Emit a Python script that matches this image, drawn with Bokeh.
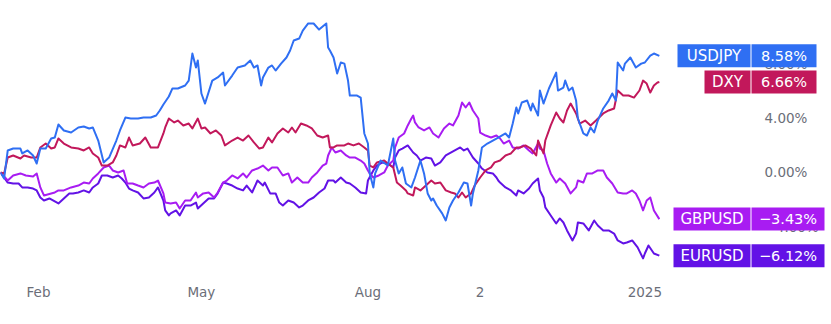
from bokeh.plotting import figure
from bokeh.models import Range1d, FixedTicker
from bokeh.core.properties import value
from bokeh.embed import file_html
from bokeh.resources import INLINE

# x = days since 2024-01-01, y = % change since start
usdjpy = [(10,0.00),(12,-0.44),(14,1.62),(17,1.76),(21,1.76),(22,1.40),(25,1.62),(28,1.25),(30,0.66),(32,1.76),
          (35,1.76),(38,2.50),(40,2.57),(42,3.53),(45,3.09),(49,2.94),(53,3.31),(56,3.38),(59,3.24),(61,3.31),
          (64,2.35),(67,0.74),(70,1.10),(74,2.35),(76,3.09),(79,4.04),(82,3.97),(86,3.97),(89,4.04),(93,4.04),
          (96,4.19),(98,4.56),(100,5.00),(103,5.59),(105,6.18),(108,6.18),(112,6.40),(114,6.76),(116,8.75),(118,7.72),
          (119,8.24),(121,5.81),(123,5.07),(127,6.76),(130,6.99),(133,7.35),(134,6.40),(138,7.13),(141,7.72),(145,7.87),
          (148,8.24),(150,7.72),(152,7.87),(154,6.40),(155,6.99),(158,7.72),(160,7.87),(162,7.50),(165,8.01),(168,8.46),
          (170,8.97),(172,9.71),(175,9.85),(177,10.44),(180,10.96),(183,10.96),(186,10.51),(190,10.96),(191,9.19),(192,8.97),
          (194,8.46),(196,7.28),(198,8.09),(200,8.01),(202,6.76),(203,5.66),(207,5.66),(209,5.51),(211,2.87),(213,2.13),
          (214,-0.07),(216,-1.10),(217,-0.07),(220,0.88),(224,0.51),(227,2.50),(228,0.88),(230,-0.07),(232,0.37),(234,-0.81),
          (237,-1.10),(239,-0.37),(242,0.88),(244,-0.07),(246,-1.54),(248,-2.06),(249,-1.91),(251,-2.43),(254,-3.01),(256,-3.53),
          (258,-2.57),(260,-2.06),(263,-1.47),(266,-0.74),(268,-0.81),(270,-2.43),(271,-1.54),(274,0.15),(276,1.84),(279,2.13),
          (282,2.35),(285,2.57),(289,2.87),(291,2.57),(293,3.60),(295,4.78),(296,4.34),(298,5.15),(301,5.29),(303,4.56),
          (304,5.07),(307,4.19),(308,6.03),(310,5.07),(313,6.18),(315,6.76),(317,7.35),(318,6.03),(321,6.25),(322,6.76),
          (324,6.03),(326,6.25),(328,5.29),(329,3.97),(332,2.87),(334,2.72),(336,3.31),(338,2.94),(340,3.82),(343,4.71),
          (346,5.29),(348,5.81),(350,5.29),(351,8.09),(354,7.50),(355,8.01),(358,8.46),(361,7.72),(364,8.01),(366,8.09),
          (369,8.60),(371,8.75),(374,8.58)]

dxy = [(10,0.00),(12,-0.07),(14,1.10),(17,1.25),(21,1.03),(23,1.25),(27,1.10),(30,1.10),(32,1.84),(35,2.13),
       (38,1.76),(40,1.84),(42,2.50),(45,2.13),(49,1.84),(53,1.76),(56,1.62),(59,1.84),(61,1.40),(64,1.10),
       (66,0.51),(69,0.51),(72,0.74),(74,1.25),(76,1.99),(79,1.84),(81,2.57),(83,1.99),(87,2.13),(90,2.57),
       (93,1.84),(97,1.84),(100,2.87),(101,3.31),(103,3.97),(106,3.68),(108,3.82),(111,3.46),(114,3.60),(116,3.24),
       (119,3.97),(121,3.24),(123,3.31),(126,2.87),(129,3.09),(132,2.72),(134,1.99),(138,2.35),(141,2.57),(144,2.35),
       (147,2.72),(150,2.21),(153,1.76),(155,1.84),(158,2.57),(160,2.21),(163,2.87),(166,3.24),(169,2.94),(171,3.31),
       (173,2.94),(176,3.60),(179,3.46),(182,3.24),(185,2.72),(188,2.57),(191,2.72),(192,1.84),(194,1.84),(196,1.99),
       (200,1.99),(202,2.13),(205,1.99),(208,2.13),(211,1.84),(213,1.62),(214,0.51),(216,0.37),(218,0.74),(222,0.88),
       (224,0.66),(227,0.37),(229,-0.74),(231,-0.96),(234,-1.32),(235,-1.54),(238,-1.69),(239,-1.10),(242,-1.32),(245,-0.96),
       (248,-0.59),(250,-0.81),(253,-0.74),(256,-1.32),(259,-1.47),(261,-1.54),(263,-1.84),(265,-1.47),(267,-1.84),(270,-1.54),
       (272,-0.96),(275,-0.37),(278,0.15),(281,0.37),(283,0.74),(286,0.88),(289,1.25),(292,1.40),(295,1.84),(297,1.84),
       (300,1.99),(303,1.76),(306,1.25),(307,2.35),(310,1.40),(311,2.35),(314,3.46),(317,4.41),(319,3.97),(321,3.68),
       (323,4.56),(325,5.07),(328,4.34),(330,3.60),(333,3.82),(336,3.46),(339,3.82),(343,4.34),(346,4.56),(349,4.71),
       (351,6.03),(354,5.66),(357,5.66),(360,5.51),(363,6.03),(365,6.76),(367,6.54),(369,5.88),(371,6.40),(373,6.62),
       (374,6.66)]

gbpusd = [(10,0.00),(14,-0.59),(17,-0.22),(21,-0.07),(24,-0.22),(28,-0.29),(30,-0.07),(32,-1.10),(34,-1.69),(38,-1.54),
          (40,-1.47),(42,-1.32),(45,-1.32),(49,-1.10),(53,-0.96),(56,-0.74),(59,-0.81),(61,-0.44),(64,-0.07),(67,0.37),
          (70,0.51),(72,0.15),(75,0.00),(78,0.15),(80,-0.81),(83,-0.81),(86,-0.96),(89,-1.10),(92,-0.81),(95,-0.74),
          (97,-0.59),(100,-1.54),(101,-2.21),(104,-2.28),(107,-2.21),(109,-2.65),(112,-2.06),(115,-2.06),(118,-1.47),(119,-1.84),
          (122,-1.54),(125,-1.47),(128,-1.84),(130,-1.47),(133,-0.74),(135,-0.59),(138,-0.22),(141,-0.44),(144,-0.07),(146,-0.37),
          (149,0.15),(152,0.29),(155,0.51),(158,0.15),(160,0.37),(163,0.37),(166,-0.22),(169,-0.07),(171,-0.74),(174,-0.37),
          (177,-0.74),(180,-0.74),(182,-0.37),(185,0.00),(188,0.51),(190,0.66),(191,1.25),(193,1.84),(195,1.47),(198,1.62),
          (201,1.25),(203,1.10),(206,1.10),(209,0.88),(211,0.66),(213,0.15),(214,-0.07),(216,-0.37),(219,-0.22),(222,0.00),
          (224,0.51),(227,0.88),(228,1.84),(230,2.57),(233,2.87),(235,3.46),(237,3.97),(238,4.19),(239,3.68),(241,3.31),
          (244,3.09),(247,3.31),(249,2.87),(252,2.57),(255,3.24),(258,3.60),(260,3.46),(263,4.19),(265,5.15),(267,4.78),
          (269,5.15),(271,4.56),(274,3.97),(275,2.94),(278,2.72),(281,2.57),(284,2.72),(286,2.50),(288,2.13),(291,2.35),
          (293,1.84),(296,1.76),(299,1.99),(302,1.62),(304,1.40),(307,2.13),(308,1.76),(310,1.62),(312,0.66),(314,-0.07),
          (317,-0.74),(319,-0.44),(322,-0.81),(325,-1.54),(328,-1.10),(329,-0.59),(332,-0.74),(334,-0.07),(337,-0.07),(340,0.15),
          (343,0.15),(345,-0.37),(348,-0.81),(351,-1.47),(354,-1.54),(356,-1.54),(359,-1.32),(361,-1.54),(363,-2.06),(365,-2.79),
          (367,-2.06),(369,-1.84),(371,-2.79),(374,-3.43)]

eurusd = [(10,0.00),(14,-0.74),(17,-0.81),(20,-0.81),(22,-1.10),(25,-1.10),(28,-1.18),(30,-1.32),(32,-1.84),(34,-2.06),
          (37,-1.91),(39,-2.06),(42,-2.28),(45,-1.91),(48,-1.54),(50,-1.54),(53,-1.47),(56,-1.32),(59,-1.47),(61,-1.10),
          (64,-0.81),(66,-0.22),(69,-0.22),(72,-0.37),(75,-0.22),(77,-0.44),(79,-0.74),(81,-1.18),(83,-1.32),(86,-1.47),
          (89,-1.91),(92,-1.84),(95,-1.47),(97,-1.10),(100,-2.06),(101,-2.79),(103,-3.16),(104,-3.01),(107,-2.79),(109,-3.16),
          (112,-2.43),(115,-2.43),(118,-2.21),(119,-2.65),(122,-2.28),(125,-1.91),(128,-1.91),(130,-1.54),(133,-0.74),(135,-0.81),
          (138,-0.96),(141,-1.18),(144,-1.32),(146,-0.96),(149,-1.47),(152,-0.59),(155,-0.96),(156,-0.74),(159,-1.54),(162,-1.54),
          (164,-2.21),(166,-2.43),(169,-2.06),(172,-2.21),(175,-2.57),(177,-2.43),(180,-2.06),(183,-1.84),(186,-1.47),(189,-1.18),
          (191,-0.59),(194,-0.59),(195,-0.74),(198,-0.37),(201,-0.74),(203,-0.81),(206,-1.10),(209,-1.47),(212,-1.54),(213,-0.59),
          (216,0.15),(218,0.51),(221,0.74),(224,0.66),(227,0.37),(228,1.10),(230,1.62),(232,1.76),(235,1.99),(238,1.47),
          (240,1.25),(242,0.88),(245,1.10),(248,1.03),(250,0.51),(253,0.74),(256,1.25),(259,1.47),(261,1.62),(264,1.84),
          (266,1.62),(268,1.76),(271,1.10),(274,0.66),(276,0.29),(279,0.00),(282,-0.07),(284,-0.37),(285,-0.59),(286,-0.74),
          (289,-1.10),(292,-1.32),(295,-1.69),(296,-1.32),(299,-1.54),(302,-1.18),(304,-0.81),(307,-0.44),(308,-1.32),(310,-1.84),
          (311,-2.57),(314,-3.16),(317,-3.75),(319,-3.38),(321,-3.68),(323,-4.26),(326,-5.00),(328,-4.49),(329,-3.68),(332,-3.75),
          (335,-4.26),(338,-3.53),(340,-3.90),(343,-4.26),(346,-4.26),(349,-4.49),(351,-5.00),(354,-5.22),(356,-5.15),(359,-5.00),
          (362,-5.51),(365,-6.32),(366,-5.96),(368,-5.37),(371,-5.96),(374,-6.12)]

series_names = ["EURUSD", "GBPUSD", "DXY", "USDJPY"]
series_data = [eurusd, gbpusd, dxy, usdjpy]
series_colors = ["#6212e6", "#a81cf2", "#c2185b", "#2f6ff3"]

x_tick_days = [31, 121, 213, 275, 366]          # Feb 1, May 1, Aug 1, Oct 2, Jan 1 2025
x_tick_labels = ["Feb", "May", "Aug", "2", "2025"]
y_ticks = [-4, 0, 4, 8]

# layout (pixels) of the price-scale area on the right
W, H = 831, 324
X0, PX_PER_DAY = 10.0, 1.81
name_box_w = [77, 77, 46, 73]      # per series, same order as series_names
value_box_w = [73, 73, 65, 65]
BOX_H = 23
SPLIT_PX = 750.5
YLABEL_PX = 764

FONT = "DejaVu Sans"
GREY = "#6b6e78"


def px_to_day(px):
    return X0 + px / PX_PER_DAY


p = figure(width=W, height=H, output_backend="svg", toolbar_location=None,
           x_range=Range1d(X0, px_to_day(W)), y_range=Range1d(-7.43, 12.65),
           y_axis_location=None, min_border_left=0, min_border_right=0,
           min_border_top=0, min_border_bottom=51)
p.outline_line_color = None
p.xgrid.visible = False
p.ygrid.visible = False
p.background_fill_color = "white"
p.border_fill_color = "white"

for name, data, color in zip(series_names, series_data, series_colors):
    xs = [d for d, v in data]
    ys = [v for d, v in data]
    p.line(xs, ys, line_width=2, color=color, line_join="round")

xa = p.xaxis[0]
xa.ticker = FixedTicker(ticks=x_tick_days)
xa.major_label_overrides = {d: l for d, l in zip(x_tick_days, x_tick_labels)}
xa.axis_line_color = None
xa.major_tick_line_color = None
xa.minor_tick_line_color = None
xa.major_label_standoff = 4
xa.major_label_text_font = FONT
xa.major_label_text_font_size = "13.5px"
xa.major_label_text_color = GREY


def fmt_pct(v):
    return ("\u2212" if v < 0 else "") + f"{abs(v):.2f}%"


# price-scale tick labels
p.text(x=[px_to_day(YLABEL_PX)] * len(y_ticks), y=y_ticks, text=[fmt_pct(t) for t in y_ticks],
       text_font=value(FONT), text_font_size="13.5px", text_color=GREY,
       text_align="left", text_baseline="middle")

# last-value badges
for name, data, color, nw, vw in zip(series_names, series_data, series_colors, name_box_w, value_box_w):
    last = data[-1][1]
    nx = px_to_day(SPLIT_PX - 0.5 - nw / 2)
    vx = px_to_day(SPLIT_PX + 0.5 + vw / 2)
    p.rect(x=[nx], y=[last], width=nw, height=BOX_H, width_units="screen", height_units="screen",
           fill_color=color, line_color=None)
    p.rect(x=[vx], y=[last], width=vw, height=BOX_H, width_units="screen", height_units="screen",
           fill_color=color, line_color=None)
    p.text(x=[nx], y=[last], text=[name],
           text_font=value(FONT), text_font_size="15px", text_color="white",
           text_align="center", text_baseline="middle")
    p.text(x=[vx], y=[last], text=[fmt_pct(last)],
           text_font=value(FONT), text_font_size="14.5px", text_color="white",
           text_align="center", text_baseline="middle")

open("out.html", "w").write(file_html(p, INLINE))
